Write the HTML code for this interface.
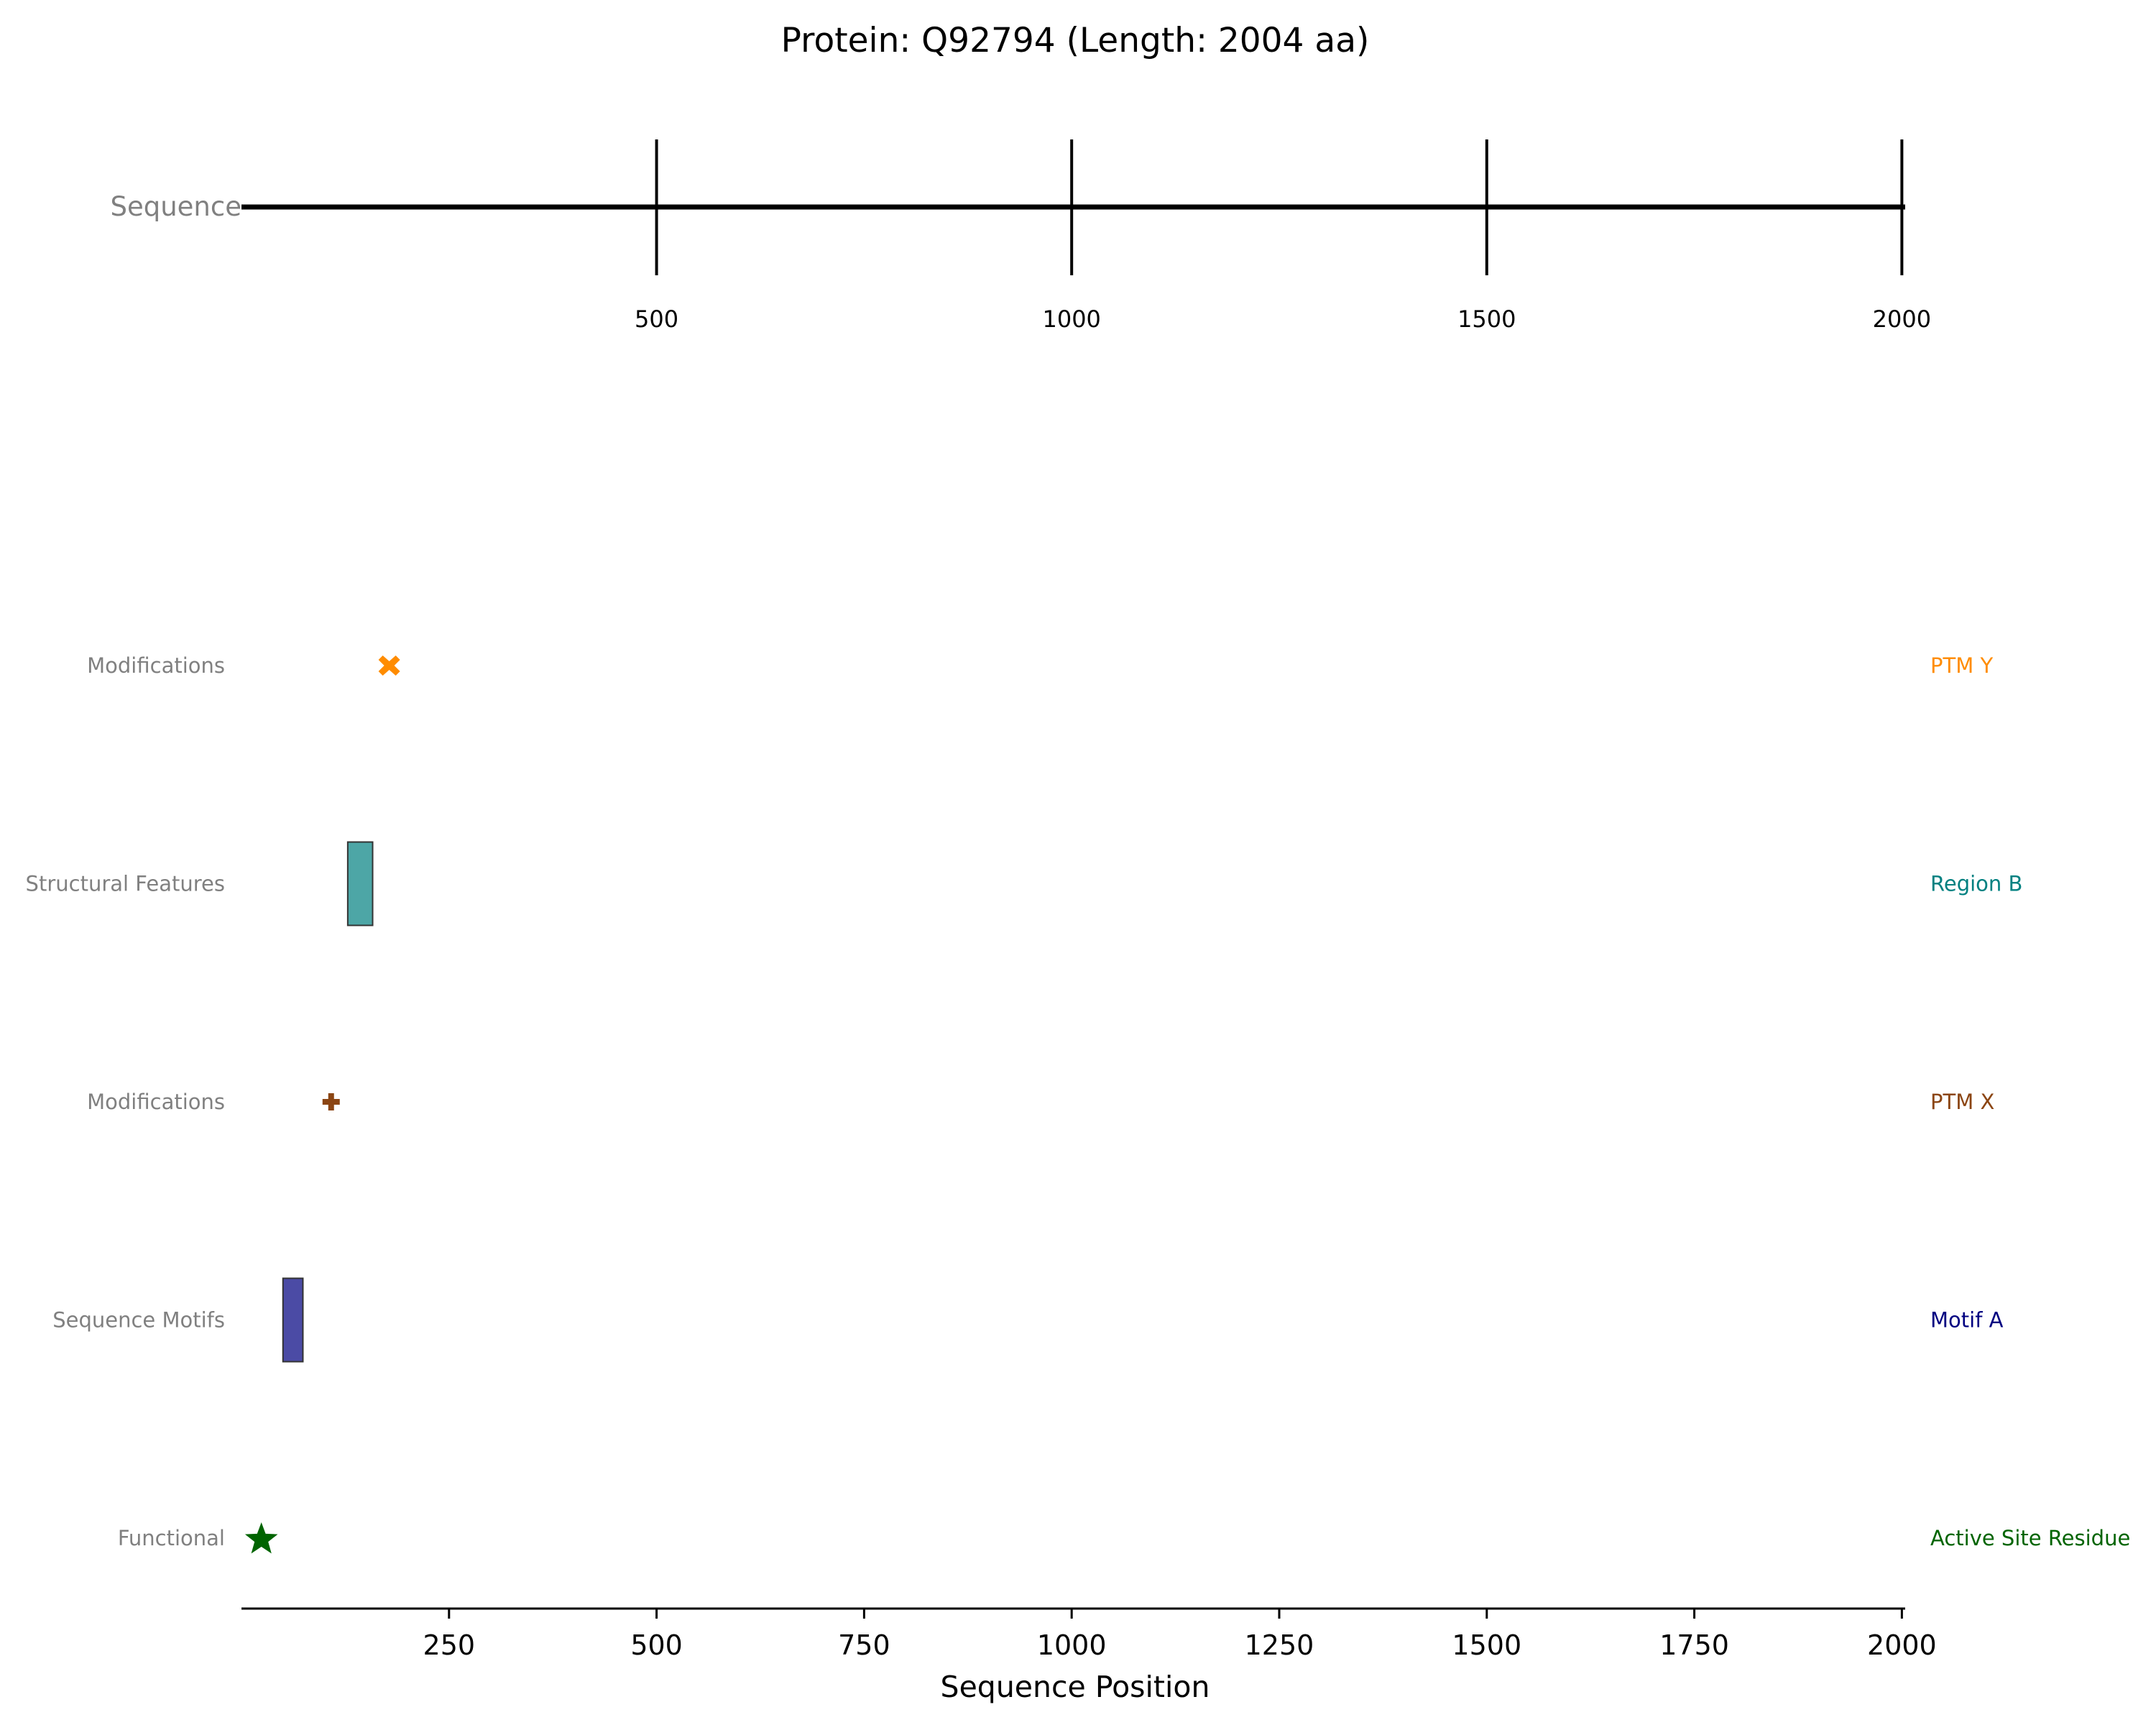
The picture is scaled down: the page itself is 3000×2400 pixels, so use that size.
<!DOCTYPE html>
<html><head><meta charset="utf-8"><style>
html,body{margin:0;padding:0;background:#fff;}
svg{display:block;font-family:"DejaVu Sans","Liberation Sans",sans-serif;}
</style></head><body>
<svg id="chart" width="3000" height="2400" viewBox="0 0 3000 2400">
<text x="1496" y="72" font-size="47" text-anchor="middle" fill="#000">Protein: Q92794 (Length: 2004 aa)</text>
<g id="seq"></g>
<g id="feat"></g>
<g id="axis"></g>
<text x="1496" y="2361" font-size="41" text-anchor="middle" fill="#000">Sequence Position</text>
</svg>
<script>
const proteinLength = 2004;
const seqTicks = [500, 1000, 1500, 2000];
const axisTicks = [250, 500, 750, 1000, 1250, 1500, 1750, 2000];
const featureCategories = ["Functional", "Sequence Motifs", "Modifications", "Structural Features", "Modifications"];
const featureNames = ["Active Site Residue", "Motif A", "PTM X", "Region B", "PTM Y"];
const featureStarts = [24, 50, 108, 128, 178];
const featureEnds = [24, 74, 108, 158, 178];
const featureTypes = ["star", "rect", "plus", "rect", "x"];
const featureColors = ["#006400", "#000080", "#8B4513", "#008080", "#FF8C00"];
const featureFills = ["#006400", "#4B4BA5", "#8B4513", "#4DA6A6", "#FF8C00"];

const NS = "http://www.w3.org/2000/svg";
const X0 = 336, X1 = 2651;
function xs(v){ return X0 + (X1 - X0) * v / proteinLength; }
function ys(i){ return 2140 - i * 303.5; }
function mk(tag, attrs, parent){ const e = document.createElementNS(NS, tag); for (const k in attrs) e.setAttribute(k, attrs[k]); parent.appendChild(e); return e; }

const seq = document.getElementById('seq');
const sl = mk('line', {x1: xs(0), x2: xs(proteinLength), y1: 288, y2: 288, stroke: '#000', 'stroke-width': 7}, seq);


const st = mk('text', {x: 336, y: 300, 'font-size': 37, 'text-anchor': 'end', fill: '#808080'}, seq);
st.textContent = 'Sequence';


seqTicks.forEach(t => {
  const l = mk('line', {x1: xs(t), x2: xs(t), y1: 194, y2: 383, stroke: '#000', 'stroke-width': 4}, seq);
  
  
  const tx = mk('text', {x: xs(t), y: 455, 'font-size': 32, 'text-anchor': 'middle', fill: '#000'}, seq);
  tx.textContent = t;
  
  
});

const feat = document.getElementById('feat');
featureNames.forEach((n, i) => {
  const y = ys(i);
  const cl = mk('text', {x: 313, y: y + 10, 'font-size': 29, 'text-anchor': 'end', fill: '#808080'}, feat);
  cl.textContent = featureCategories[i];
  
  
  const nl = mk('text', {x: 2686, y: y + 10, 'font-size': 29, fill: featureColors[i]}, feat);
  nl.textContent = n;
  
  
  const cx = xs((featureStarts[i] + featureEnds[i]) / 2);
  let m;
  if (featureTypes[i] === 'rect') {
    m = mk('rect', {x: xs(featureStarts[i]), y: y - 58, width: xs(featureEnds[i]) - xs(featureStarts[i]), height: 116, fill: featureFills[i], stroke: '#333', 'stroke-width': 2}, feat);
  } else if (featureTypes[i] === 'star') {
    let pts = [];
    for (let k = 0; k < 10; k++) { const r = k % 2 ? 10 : 24; const a = -Math.PI/2 + k * Math.PI/5; pts.push((cx + r*Math.cos(a)).toFixed(1) + ',' + (y + 2 + r*Math.sin(a)).toFixed(1)); }
    m = mk('polygon', {points: pts.join(' '), fill: featureFills[i]}, feat);
  } else if (featureTypes[i] === 'plus') {
    m = mk('path', {d: `M${cx-12},${y-4}h8v-8h8v8h8v8h-8v8h-8v-8h-8z`, fill: featureFills[i]}, feat);
  } else {
    m = mk('path', {d: `M${cx},${y-6}l9,-8l6,6l-8,8l8,8l-6,6l-9,-8l-9,8l-6,-6l8,-8l-8,-8l6,-6z`, fill: featureFills[i]}, feat);
  }
  
  
});

const ax = document.getElementById('axis');
const spine = mk('line', {x1: X0, x2: X1, y1: 2238, y2: 2238, stroke: '#000', 'stroke-width': 3}, ax);


axisTicks.forEach(t => {
  const l = mk('line', {x1: xs(t), x2: xs(t), y1: 2238, y2: 2252, stroke: '#000', 'stroke-width': 3}, ax);
  
  
  const tx = mk('text', {x: xs(t), y: 2302, 'font-size': 38, 'text-anchor': 'middle', fill: '#000'}, ax);
  tx.textContent = t;
  
  
});
</script>
</body></html>
